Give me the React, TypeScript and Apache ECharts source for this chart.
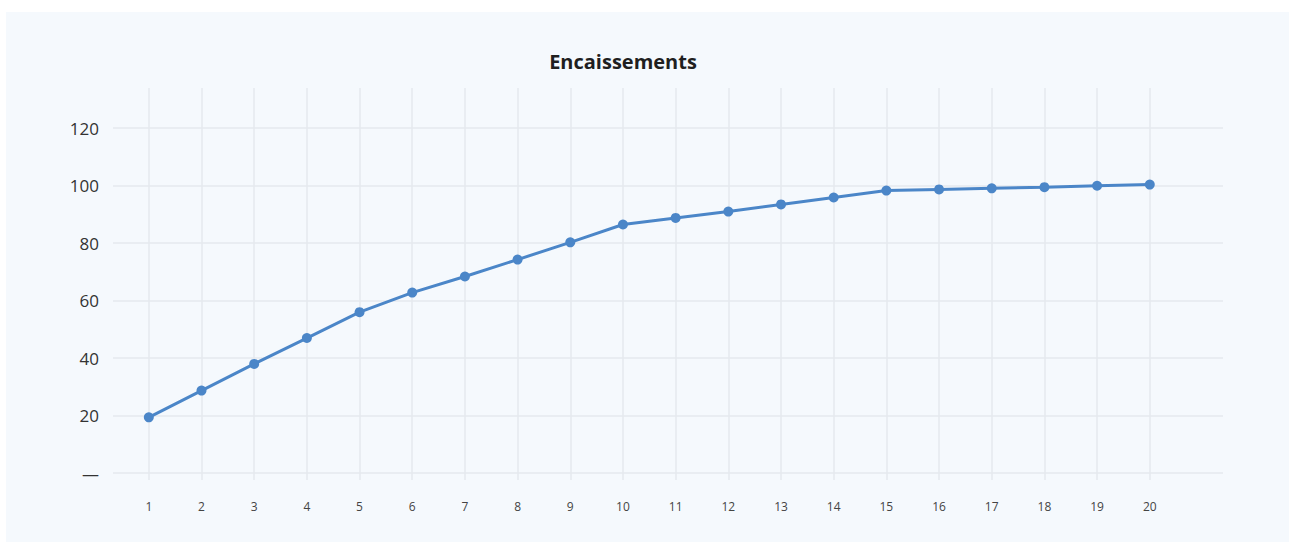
import React, { useEffect, useRef } from "react";
import * as echarts from "echarts";

const titleText = "Encaissements";
const periods = [1, 2, 3, 4, 5, 6, 7, 8, 9, 10, 11, 12, 13, 14, 15, 16, 17, 18, 19, 20];
const encaissements = [19.4, 28.7, 38, 47, 56, 62.8, 68.4, 74.3, 80.3, 86.5, 88.8, 91, 93.5, 95.9, 98.3, 98.7, 99.1, 99.5, 100, 100.4];
const yTicks = [0, 20, 40, 60, 80, 100, 120];

export default function App() {
  const ref = useRef<HTMLDivElement>(null);
  useEffect(() => {
    if (!ref.current) return;
    const chart = echarts.init(ref.current, undefined, { renderer: "svg" });
    const gridColor = "#e5e9ee";
    chart.setOption({
      animation: false,
      backgroundColor: "#ffffff",
      graphic: [
        {
          type: "rect",
          z: -10,
          silent: true,
          shape: { x: 6, y: 12, width: 1283, height: 530 },
          style: { fill: "#f5f9fd" },
        },
        {
          type: "text",
          x: 623,
          y: 61,
          style: {
            text: titleText,
            fontFamily: "Open Sans",
            fontWeight: "bold",
            fontSize: 20,
            fill: "#1f1f1f",
            textAlign: "center",
            textVerticalAlign: "middle",
          },
        },
      ],
      grid: { left: 113, right: 66, top: 88, bottom: 62, containLabel: false },
      xAxis: {
        type: "value",
        min: 0.32,
        max: 21.39,
        axisLine: { show: false },
        axisTick: { show: false, customValues: periods },
        splitLine: { show: true, lineStyle: { color: gridColor, width: 1.5 } },
        axisLabel: {
          customValues: periods,
          margin: 20,
          fontFamily: "Open Sans",
          fontSize: 12,
          color: "#444444",
        },
      },
      yAxis: {
        type: "value",
        min: -2.4,
        max: 134,
        axisLine: { show: false },
        axisTick: { show: false, customValues: yTicks },
        splitLine: { show: true, lineStyle: { color: gridColor, width: 1.5 } },
        axisLabel: {
          customValues: yTicks,
          margin: 14,
          fontFamily: "Open Sans",
          fontSize: 17,
          color: "#333333",
          formatter: (v: number) => (v === 0 ? "—" : String(v)),
        },
      },
      series: [
        {
          type: "line",
          data: periods.map((p, i) => [p, encaissements[i]]),
          symbol: "circle",
          symbolSize: 10,
          lineStyle: { color: "#4b86c8", width: 3 },
          itemStyle: { color: "#4b86c8" },
        },
      ],
    });
    return () => chart.dispose();
  }, []);
  return (
    <div
      ref={ref}
      style={{ position: "fixed", left: 0, top: 0, width: 1289, height: 542 }}
    />
  );
}
